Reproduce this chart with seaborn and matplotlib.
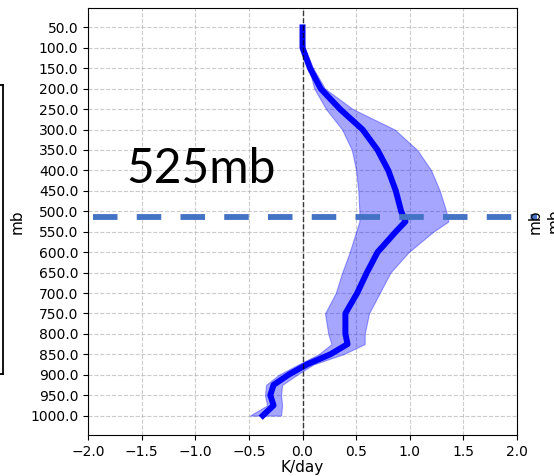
import numpy as np
import pandas as pd
import matplotlib
matplotlib.use("Agg")
import matplotlib.pyplot as plt
import seaborn as sns
from matplotlib.lines import Line2D

# ---- data ----
levels = [50, 100, 150, 200, 250, 300, 350, 400, 450, 500, 525, 550, 600, 650,
          700, 750, 800, 825, 850, 875, 900, 925, 950, 975, 1000]
mean_rate = [0.0, 0.0, 0.07, 0.17, 0.35, 0.56, 0.70, 0.80, 0.87, 0.92, 0.96, 0.87,
             0.70, 0.60, 0.51, 0.40, 0.40, 0.42, 0.26, 0.04, -0.13, -0.27, -0.30,
             -0.27, -0.37]
lower_rate = [-0.01, -0.01, 0.06, 0.11, 0.22, 0.37, 0.46, 0.50, 0.52, 0.53, 0.53,
              0.50, 0.44, 0.37, 0.31, 0.21, 0.24, 0.27, 0.15, -0.04, -0.22, -0.34,
              -0.35, -0.33, -0.49]
upper_rate = [0.01, 0.02, 0.10, 0.21, 0.47, 0.86, 1.07, 1.20, 1.28, 1.34, 1.36,
              1.22, 0.99, 0.82, 0.72, 0.62, 0.58, 0.58, 0.38, 0.10, -0.05, -0.19,
              -0.20, -0.19, -0.20]
yticks = [50.0, 100.0, 150.0, 200.0, 250.0, 300.0, 350.0, 400.0, 450.0, 500.0,
          550.0, 600.0, 650.0, 700.0, 750.0, 800.0, 850.0, 900.0, 950.0, 1000.0]
xticks = [-2.0, -1.5, -1.0, -0.5, 0.0, 0.5, 1.0, 1.5, 2.0]
marked_level = 515
marked_label = "525mb"

df = pd.DataFrame({"level": levels, "mean": mean_rate})

fig = plt.figure(figsize=(5.54, 4.76), dpi=100)
ax = fig.add_axes([88 / 554, 1 - 435 / 476, (517 - 88) / 554, (435 - 8) / 476])

ax.grid(True, color="#b0b0b0", ls="--", lw=0.8, alpha=0.65)
ax.set_axisbelow(True)

ax.fill_betweenx(levels, lower_rate, upper_rate, color="blue", alpha=0.35, lw=0.8)
sns.lineplot(data=df, x="mean", y="level", orient="y", sort=False, color="blue",
             lw=4.3, ax=ax)
ax.axvline(0, color="k", ls="--", lw=1.0, alpha=0.75)

ax.plot([-1.956, 2.185], [marked_level, marked_level], color="#4472C4", lw=4.2,
        dashes=(4.2, 3.3), clip_on=False, solid_capstyle="butt",
        dash_capstyle="butt", zorder=5)

ax.text(-1.64, 432, marked_label, fontsize=34.5, family="Lato", fontweight="normal",
        va="baseline", ha="left", color="black")

ax.set_xlim(-2, 2)
ax.set_ylim(1047.5, 2.5)
ax.set_yticks(yticks)
ax.set_yticklabels([f"{v:.1f}" for v in yticks])
ax.set_xticks(xticks)
ax.set_xticklabels([f"{v:.1f}".replace("-", "\u2212") for v in xticks])
ax.tick_params(labelsize=10)
ax.set_xlabel("K/day", fontsize=11, labelpad=1)
ax.set_ylabel("mb", fontsize=11)

# right-side labels of neighbouring panels
fig.text(535 / 554, 1 - 222 / 476, "mb", rotation=90, fontsize=11, ha="center", va="center")
fig.text(547 / 554, 1 - 221 / 476, "mb", rotation=90, fontsize=11, ha="left", va="center")

# edge of neighbouring box on the left
for xs, ys in [([-0.01, 3 / 554], [1 - 85 / 476, 1 - 85 / 476]),
               ([3 / 554, 3 / 554], [1 - 85 / 476, 1 - 374 / 476]),
               ([-0.01, 3 / 554], [1 - 374 / 476, 1 - 374 / 476])]:
    fig.add_artist(Line2D(xs, ys, color="black", lw=1.3, transform=fig.transFigure))

fig.savefig("out.png", dpi=100)
